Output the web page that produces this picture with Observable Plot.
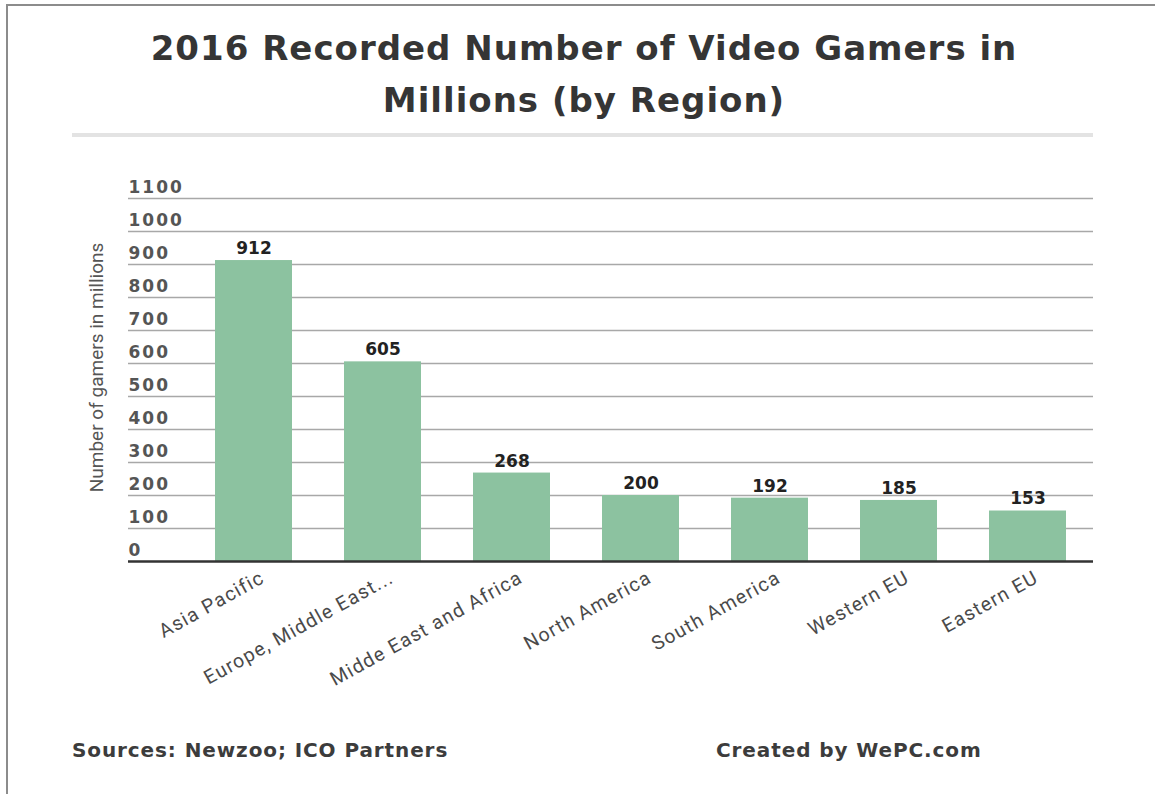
<!DOCTYPE html>
<html>
<head>
<meta charset="utf-8">
<script src="https://cdn.jsdelivr.net/npm/d3@7"></script>
<script src="https://cdn.jsdelivr.net/npm/@observablehq/plot@0.6"></script>
<style>
  html, body { margin: 0; padding: 0; background: #fff; }
  #wrap { position: relative; width: 1155px; height: 794px; overflow: hidden; background: #fff; }
  #frame { position: absolute; left: 6px; top: 4px; width: 1160px; height: 800px;
           border-top: 2px solid #8c8c8c; border-left: 2px solid #8c8c8c; box-sizing: border-box; }
  #title { position: absolute; left: 0; top: 22px; width: 1168px; text-align: center;
           font-family: "DejaVu Sans", sans-serif; font-weight: bold; font-size: 34px;
           line-height: 52px; letter-spacing: 1px; color: #353535; }
  #sep { position: absolute; left: 72px; top: 133px; width: 1021px; height: 4px; background: #e3e3e3; }
  .foot { position: absolute; top: 740px; font-family: "DejaVu Sans", sans-serif; font-weight: bold;
          font-size: 20px; line-height: 20px; letter-spacing: 0.9px; color: #3c3c3c; white-space: nowrap; }
  #chart { position: absolute; left: 0; top: 150px; }
  #chart g[aria-label="y-axis tick label"] text { letter-spacing: 2px; }
  #chart g[aria-label="value labels"] text { letter-spacing: 2px; }
  #chart g[aria-label="x-axis tick label"] text { letter-spacing: 1.2px; }
  #chart g[aria-label="y title"] text { letter-spacing: -0.5px; }
</style>
</head>
<body>
<div id="wrap">
  <div id="frame"></div>
  <div id="title">2016 Recorded Number of Video Gamers in<br>Millions (by Region)</div>
  <div id="sep"></div>
  <div id="chart"></div>
  <div class="foot" style="left:72px">Sources: Newzoo; ICO Partners</div>
  <div class="foot" style="left:716px">Created by WePC.com</div>
</div>
<script>
const regions = ["Asia Pacific", "Europe, Middle East...", "Midde East and Africa", "North America", "South America", "Western EU", "Eastern EU"];
const gamers = [912, 605, 268, 200, 192, 185, 153];
const yTicks = [0, 100, 200, 300, 400, 500, 600, 700, 800, 900, 1000, 1100];
const yTitle = ["Number of gamers in millions"];

const data = regions.map((r, i) => ({region: r, value: gamers[i]}));

const chart = Plot.plot({
  width: 1155,
  height: 570,
  marginLeft: 128,
  marginRight: 62,
  marginTop: 48,
  marginBottom: 159,
  style: {fontFamily: "Roboto, sans-serif", background: "transparent", overflow: "visible"},
  x: {domain: regions, range: [188, 1093], paddingInner: 0.4, paddingOuter: 0.2, label: null},
  y: {domain: [0, 1100], label: null},
  marks: [
    Plot.ruleY(yTicks.filter(d => d > 0), {stroke: "#a8a8a8", strokeWidth: 1.5}),
    Plot.barY(data, {x: "region", y: "value", fill: "#8cc2a0"}),
    Plot.ruleY([0], {stroke: "#333", strokeWidth: 2.5}),
    Plot.axisY(yTicks, {tickSize: 0, tickPadding: 0, textAnchor: "start", dy: -11,
      tickFormat: d => String(d),
      fontSize: 17, fontWeight: "bold", fontFamily: "DejaVu Sans, sans-serif", fill: "#555", label: null}),
    Plot.axisX({tickSize: 0, tickRotate: -29, tickPadding: 8, textAnchor: "end", lineAnchor: "top",
      dx: 5, fontSize: 19.5, fill: "#4a4a4a", label: null}),
    Plot.text(data, {x: "region", y: "value", text: d => String(d.value), dy: -12,
      fontSize: 17, fontWeight: "bold", fontFamily: "DejaVu Sans, sans-serif", fill: "#222",
      ariaLabel: "value labels"}),
    Plot.text(yTitle, {frameAnchor: "left", textAnchor: "middle", rotate: -90, dx: -31.5, dy: -12.5,
      fontSize: 19, fill: "#555", ariaLabel: "y title"})
  ]
});
document.getElementById("chart").appendChild(chart);
</script>
</body>
</html>
